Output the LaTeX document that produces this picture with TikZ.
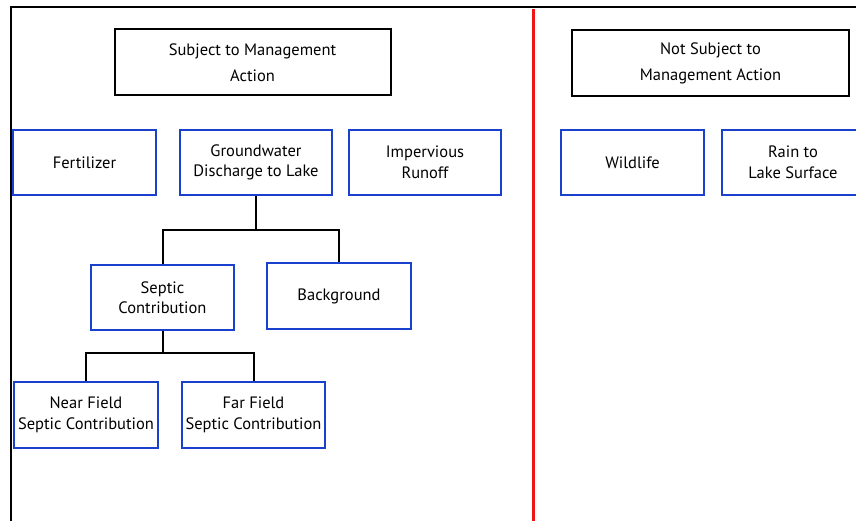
\documentclass[tikz,border=0pt]{standalone}
\usepackage{fontspec}
\setmainfont{PT Sans}
\usepackage{tikz}

\definecolor{boxblue}{RGB}{25,65,205}
\definecolor{divred}{RGB}{240,20,20}

\tikzset{
    headbox/.style={draw=black, line width=2pt, inner sep=0pt, align=center,
        minimum width=276pt, minimum height=66pt, font=\fontsize{16.5}{26}\selectfont},
    srcbox/.style={draw=boxblue, line width=2pt, inner sep=0pt, align=center,
        minimum width=143pt, minimum height=65pt, font=\fontsize{16.5}{20.5}\selectfont},
    link/.style={draw=black, line width=2pt}
}

\begin{document}
\begin{tikzpicture}[x=1pt, y=-1pt]
    \useasboundingbox (0,0) rectangle (856,521);

    % Frame and divider
    \draw[line width=2pt] (11,521) -- (11,7) -- (857,7);
    \draw[divred, line width=3pt] (533,9) -- (533,521);

    % Headings
    \node[headbox] (managed) at (252.5,62.5) {Subject to Management\\Action};
    \node[headbox, minimum width=277pt] (unmanaged) at (710.5,63) {Not Subject to\\Management Action};

    % Sources
    \node[srcbox] (fert) at (84.5,162.5) {Fertilizer};
    \node[srcbox, minimum width=152pt] (gw) at (256,162.5) {Groundwater\\Discharge to Lake};
    \node[srcbox, minimum width=152pt] (imp) at (425,162.5) {Impervious\\Runoff};
    \node[srcbox] (wild) at (632.5,162.5) {Wildlife};
    \node[srcbox] (rain) at (793,162.5) {Rain to\\Lake Surface};

    % Groundwater breakdown
    \node[srcbox] (septic) at (162.5,297.5) {Septic\\Contribution};
    \node[srcbox, minimum width=144pt, minimum height=66pt] (bg) at (339,296) {Background};
    \node[srcbox, minimum width=144pt, minimum height=66pt] (near) at (86,415) {Near Field\\Septic Contribution};
    \node[srcbox, minimum height=66pt] (far) at (253.5,415) {Far Field\\Septic Contribution};

    % Tree lines
    \draw[link] (gw.south) -- (gw.south |- 0,230) coordinate (gwjoin);
    \draw[link] (septic.north) |- (gwjoin) -| (bg.north);
    \draw[link] (septic.south) -- (septic.south |- 0,353) coordinate (sepjoin);
    \draw[link] (near.north) |- (sepjoin) -| (far.north);

\end{tikzpicture}
\end{document}
